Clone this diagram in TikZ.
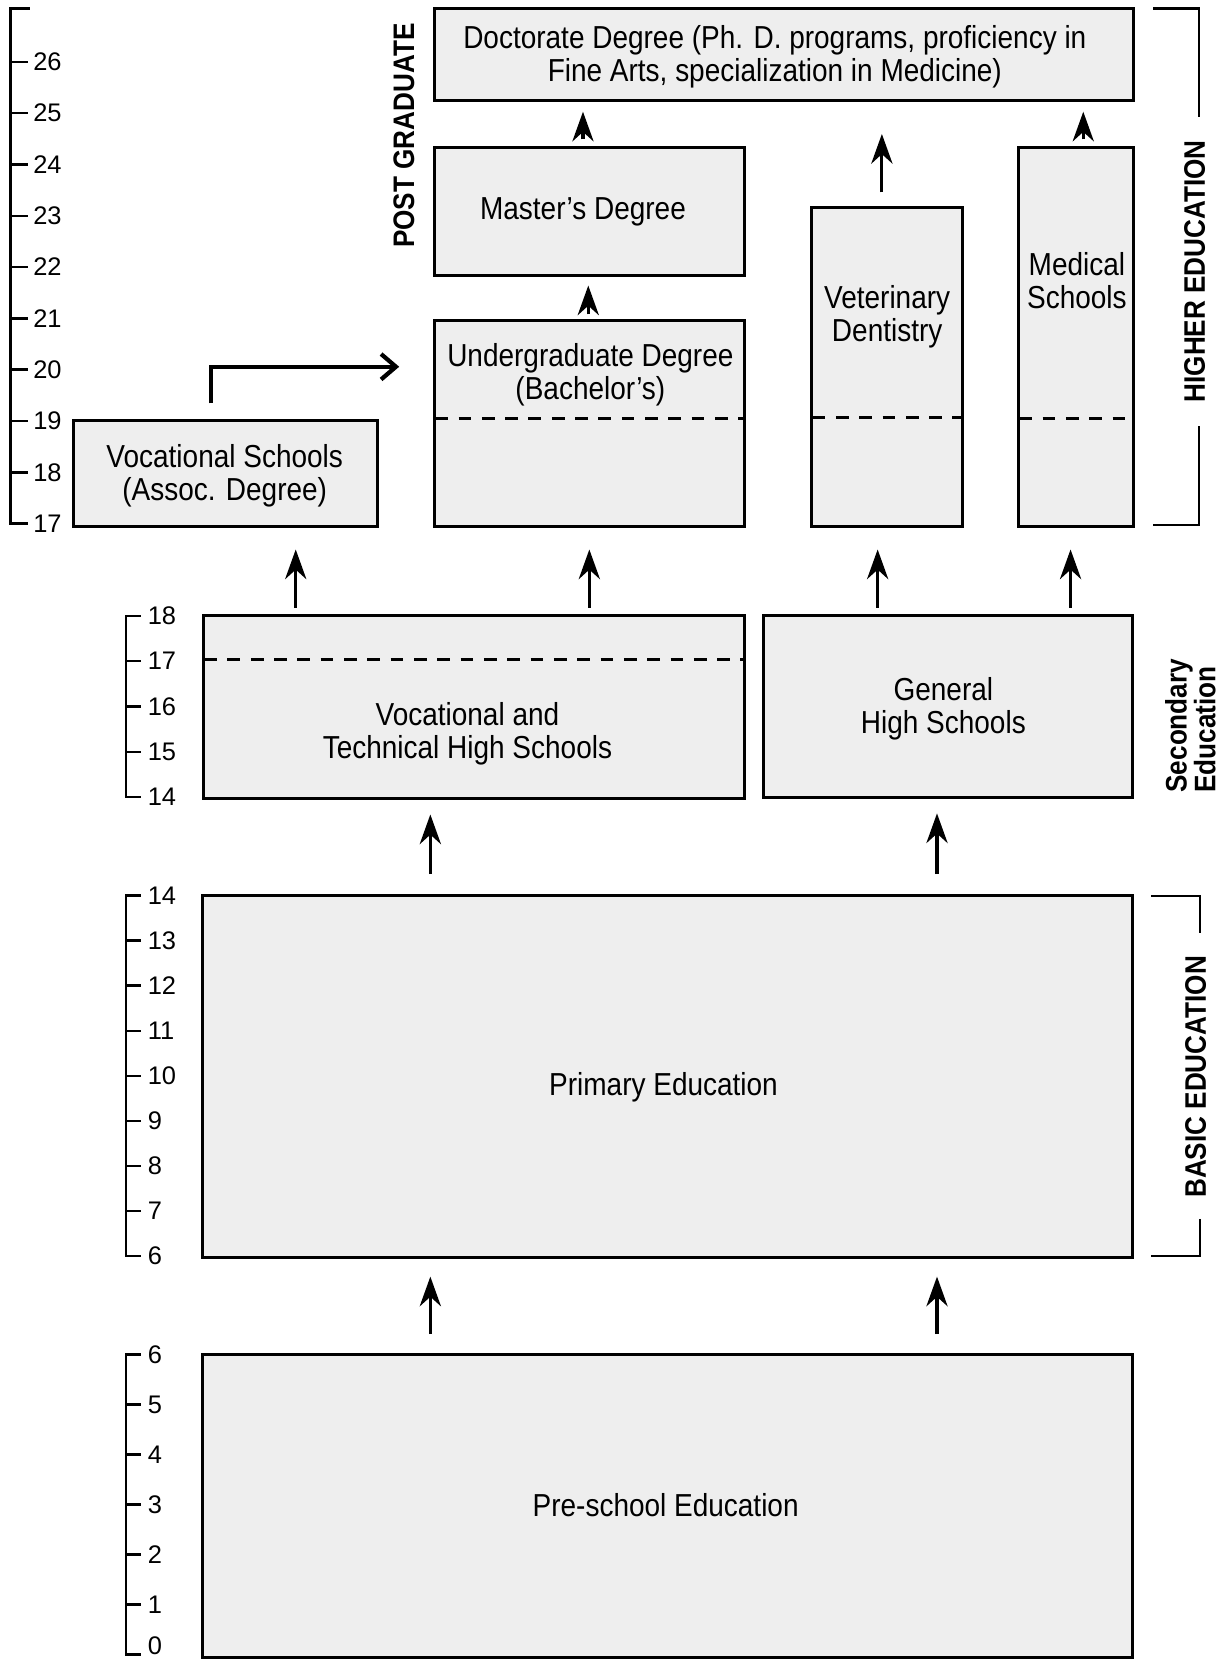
\documentclass[tikz,border=0pt]{standalone}
\usepackage{fontspec}
\setmainfont{Liberation Sans}
\newfontfamily\condfont[FakeStretch=0.88]{Liberation Sans}
\usetikzlibrary{arrows.meta,fit,calc}
\definecolor{boxgray}{HTML}{EEEEEE}
\tikzset{
  box/.style={draw, line width=1.4pt, fill=boxgray, inner sep=0pt},
  boxtext/.style={font=\condfont\fontsize{15}{15.5}\selectfont, align=center, inner sep=0pt},
  sidelabel/.style={font=\condfont\bfseries\fontsize{14}{13.5}\selectfont, rotate=90, inner sep=0pt},
  axisline/.style={line width=1.2pt},
  agenum/.style={font=\fontsize{12}{12}\selectfont, anchor=west, inner sep=0pt},
  uparrow/.style={line width=1.5pt, -{Stealth[length=14pt,width=10pt,inset=4.5pt]}},
  elbowarrow/.style={line width=2pt, -{Straight Barb[length=7pt,width=12pt]}},
  dashline/.style={line width=1.4pt, dash pattern=on 6pt off 5pt},
  bracket/.style={line width=1.1pt},
}
\begin{document}
\begin{tikzpicture}[x=0.5pt,y=-0.5pt]
\useasboundingbox[fill=white] (0,0) rectangle (1160,1568);

% ---------- boxes ----------
\node[box, fit={(410,8)(1069,95)}] (doct) {};
\node[box, fit={(410,139)(702,260)}] (ms) {};
\node[box, fit={(410,302)(702,497)}] (ug) {};
\node[box, fit={(766,196)(908,497)}] (vet) {};
\node[box, fit={(961,139)(1069,497)}] (med) {};
\node[box, fit={(69,397)(356,497)}] (vs) {};
\node[box, fit={(192,581)(702,753)}] (vths) {};
\node[box, fit={(720,581)(1068,752)}] (ghs) {};
\node[box, fit={(191,845)(1068,1186)}] (pr) {};
\node[box, fit={(191,1278)(1068,1564)}] (ps) {};

% dashed lines
\coordinate (dug) at (0,395);
\coordinate (dvet) at (0,394);
\coordinate (dsec) at (0,622);
\draw[dashline] ([xshift=1pt]ug.west |- dug) -- ([xshift=-1pt]ug.east |- dug);
\draw[dashline] ([xshift=1pt]vet.west |- dvet) -- ([xshift=-1pt]vet.east |- dvet);
\draw[dashline] ([xshift=1pt]med.west |- dug) -- ([xshift=-1pt]med.east |- dug);
\draw[dashline] ([xshift=1pt]vths.west |- dsec) -- ([xshift=-1pt]vths.east |- dsec);

% ---------- box texts ----------
\node[boxtext] (doct-t) at (731,53.5) {Doctorate Degree (Ph. D. programs, proficiency in\\Fine Arts, specialization in Medicine)};
\node[boxtext] (ms-t) at (550,199.5) {Master’s Degree};
\node[boxtext] (ug-t) at (557,353.5) {Undergraduate Degree\\(Bachelor’s)};
\node[boxtext] (vet-t) at (837,299) {Veterinary\\Dentistry};
\node[boxtext] (med-t) at (1016,265) {Medical\\Schools};
\node[boxtext] (vs-t) at (212,449) {Vocational Schools\\(Assoc. Degree)};
\node[boxtext] (vths-t) at (441,692) {Vocational and\\Technical High Schools};
\node[boxtext] (ghs-t) at (890,669) {General\\High Schools};
\node[boxtext] (pr-t) at (626,1026) {Primary Education};
\node[boxtext] (ps-t) at (628,1420) {Pre-school Education};

% ---------- side labels ----------
\node[sidelabel] (pg) at (381,128) {POST GRADUATE};
\node[sidelabel] (he) at (1127,256) {HIGHER EDUCATION};
\node[sidelabel] (be) at (1128,1016) {BASIC EDUCATION};
\node[sidelabel, anchor=west, align=left] (se) at (1123,748) {Secondary\\Education};

% brackets
\draw[bracket] (1088,8) -- (1131,8) -- (1131,110);
\draw[bracket] (1131,402) -- (1131,495) -- (1088,495);
\draw[bracket] (1086,845) -- (1132,845) -- (1132,880);
\draw[bracket] (1132,1150) -- (1132,1185) -- (1086,1185);

% ---------- arrows ----------
\coordinate (xa) at (279,0);
\coordinate (xb) at (556,0);
\coordinate (xc) at (828,0);
\coordinate (xd) at (1010,0);
\coordinate (xe) at (406,0);
\coordinate (xf) at (884,0);
\coordinate (xg) at (555,0);
\coordinate (xh) at (550,0);
\coordinate (xi) at (1022,0);
\coordinate (xj) at (832,0);
\coordinate (xk) at (199,0);
\coordinate (yk) at (0,346);

\draw[uparrow, shorten <=3pt, shorten >=10pt] (vths.north -| xa) -- (vs.south -| xa);
\draw[uparrow, shorten <=3pt, shorten >=10pt] (vths.north -| xb) -- (ug.south -| xb);
\draw[uparrow, shorten <=3pt, shorten >=10pt] (ghs.north -| xc) -- (vet.south -| xc);
\draw[uparrow, shorten <=3pt, shorten >=10pt] (ghs.north -| xd) -- (med.south -| xd);

\draw[uparrow, shorten <=9.5pt, shorten >=7pt] (pr.north -| xe) -- (vths.south -| xe);
\draw[uparrow, shorten <=9.5pt, shorten >=7pt] (pr.north -| xf) -- (ghs.south -| xf);

\draw[uparrow, shorten <=9pt, shorten >=8.5pt] (ps.north -| xe) -- (pr.south -| xe);
\draw[uparrow, shorten <=9pt, shorten >=8.5pt] (ps.north -| xf) -- (pr.south -| xf);

\draw[uparrow, shorten <=2pt, shorten >=4pt] (ug.north -| xg) -- (ms.south -| xg);
\draw[uparrow, shorten <=3pt, shorten >=4.5pt] (ms.north -| xh) -- (doct.south -| xh);
\draw[uparrow, shorten <=3pt, shorten >=4.5pt] (med.north -| xi) -- (doct.south -| xi);
\draw[uparrow, shorten <=6.5pt, shorten >=15pt] (vet.north -| xj) -- (doct.south -| xj);

\draw[elbowarrow, shorten <=7.5pt, shorten >=16pt] (vs.north -| xk) |- (ug.west |- yk);

% ---------- age axes ----------
% top (17-26)
\draw[axisline] (28,8) -- (10,8) -- (10,494) -- (26,494);
\foreach \a in {18,...,26}
  \draw[axisline] (10,{494-(\a-17)*48.4}) -- (26,{494-(\a-17)*48.4});
\foreach \a in {17,...,26}
  \node[agenum] (top\a) at (31,{494-(\a-17)*48.4}) {\a};

% secondary (14-18)
\draw[axisline] (133,581) -- (119,581) -- (119,752) -- (133,752);
\foreach \a in {15,...,17}
  \draw[axisline] (119,{752-(\a-14)*42.75}) -- (133,{752-(\a-14)*42.75});
\foreach \a in {14,...,18}
  \node[agenum] (sec\a) at (139,{752-(\a-14)*42.75}) {\a};

% primary (6-14)
\draw[axisline] (133,845) -- (119,845) -- (119,1185) -- (133,1185);
\foreach \a in {7,...,13}
  \draw[axisline] (119,{1185-(\a-6)*42.5}) -- (133,{1185-(\a-6)*42.5});
\foreach \a in {6,...,14}
  \node[agenum] (pri\a) at (139,{1185-(\a-6)*42.5}) {\a};

% pre-school (0-6)
\draw[axisline] (133,1278) -- (119,1278) -- (119,1561) -- (133,1561);
\foreach \a in {1,...,5}
  \draw[axisline] (119,{1561-\a*47.2}) -- (133,{1561-\a*47.2});
\foreach \a in {1,...,6}
  \node[agenum] (pre\a) at (139,{1561-\a*47.2}) {\a};
\node[agenum, anchor=south west] (pre0) at (139,1562) {0};
\end{tikzpicture}
\end{document}
